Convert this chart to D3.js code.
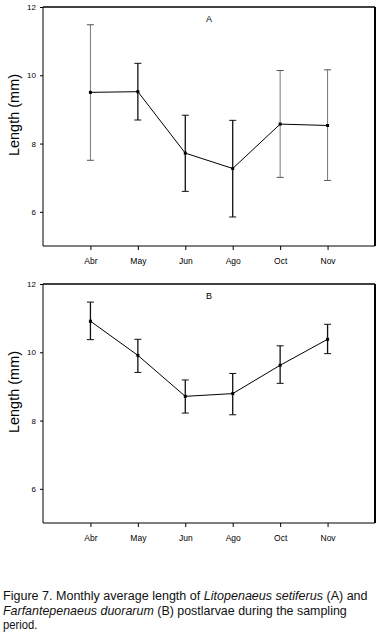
<!DOCTYPE html>
<html><head><meta charset="utf-8">
<script src="https://cdn.jsdelivr.net/npm/d3@7"></script>
<style>
body{margin:0;background:#fff;}
svg{display:block;}
.tick text{font-family:"Liberation Sans",Arial,sans-serif;}
</style></head>
<body>
<script>
const months = ["Abr","May","Jun","Ago","Oct","Nov"];
const yTicks = [6,8,10,12];
const meanA = [9.50,9.52,7.72,7.27,8.57,8.53];
const hiA   = [11.48,10.35,8.83,8.68,10.14,10.16];
const loA   = [7.51,8.69,6.60,5.85,7.01,6.92];
const meanB = [10.91,9.91,8.71,8.79,9.62,10.38];
const hiB   = [11.47,10.38,9.19,9.38,10.19,10.82];
const loB   = [10.37,9.41,8.22,8.17,9.09,9.96];

const W=381,H=644;
const svg=d3.select("body").append("svg").attr("width",W).attr("height",H);

function panel(top, label, mean, hi, lo, thickBars){
  const x=d3.scaleLinear().domain([0,7]).range([43,375]);
  const y=d3.scaleLinear().domain([5,12]).range([top+239,top]);
  const g=svg.append("g");
  g.append("line").attr("x1",43).attr("x2",375).attr("y1",top).attr("y2",top).attr("stroke","#000").attr("stroke-width",1.5);
  g.append("line").attr("x1",375).attr("x2",375).attr("y1",top).attr("y2",top+239).attr("stroke","#000").attr("stroke-width",2);
  const ya=g.append("g").attr("transform","translate(43,0)")
    .call(d3.axisLeft(y).tickValues(yTicks).tickFormat(d3.format("d")).tickSize(3).tickPadding(4));
  ya.select(".domain").attr("stroke-width",1).attr("d",`M0,${top}V${top+239}`);
  ya.selectAll(".tick text").attr("font-size",8);
  const xa=g.append("g").attr("transform",`translate(0,${top+239})`)
    .call(d3.axisBottom(x).tickValues([1,2,3,4,5,6]).tickFormat((d)=>months[d-1]).tickSize(4).tickPadding(8));
  xa.select(".domain").attr("stroke-width",1.2).attr("d","M43,0H375");
  xa.selectAll(".tick text").attr("font-size",8.5);
  g.append("text").attr("x",209).attr("y",top+15).attr("text-anchor","middle")
    .attr("font-family","Liberation Sans,Arial,sans-serif").attr("font-size",9).text(label);
  g.append("text").attr("transform",`translate(19,${top+108}) rotate(-90)`).attr("text-anchor","middle")
    .attr("font-family","Liberation Sans,Arial,sans-serif").attr("font-size",14.5).text("Length (mm)");
  const idx=d3.range(6);
  idx.forEach(i=>{
    const cx=x(i+1);
    const sw=thickBars[i]?1.3:0.8;
    const col=thickBars[i]?"#111":"#555";
    g.append("line").attr("x1",cx).attr("x2",cx).attr("y1",y(hi[i])).attr("y2",y(lo[i])).attr("stroke",col).attr("stroke-width",sw);
    g.append("line").attr("x1",cx-3.5).attr("x2",cx+3.5).attr("y1",y(hi[i])).attr("y2",y(hi[i])).attr("stroke",col).attr("stroke-width",1);
    g.append("line").attr("x1",cx-3.5).attr("x2",cx+3.5).attr("y1",y(lo[i])).attr("y2",y(lo[i])).attr("stroke",col).attr("stroke-width",1);
  });
  g.append("path").datum(idx).attr("fill","none").attr("stroke","#000").attr("stroke-width",1)
    .attr("d",d3.line().x(i=>x(i+1)).y(i=>y(mean[i])));
  g.selectAll("rect.pt").data(idx).join("rect").attr("x",i=>x(i+1)-1.5).attr("y",i=>y(mean[i])-1.5)
    .attr("width",3).attr("height",3).attr("fill","#000");
}
panel(7,"A",meanA,hiA,loA,[false,true,true,true,false,false]);
panel(284,"B",meanB,hiB,loB,[true,true,true,true,true,true]);

function capLine(baseY, targetW, parts){
  const g=svg.append("g");
  const t=g.append("text").attr("x",0).attr("y",0)
    .attr("font-family","'Liberation Sans',Arial,sans-serif").attr("font-size",12).attr("fill","#111");
  parts.forEach(([s,it])=>{ const ts=t.append("tspan").text(s); if(it) ts.attr("font-style","italic"); });
  const w=t.node().getComputedTextLength();
  g.attr("transform",`translate(3,${baseY}) scale(${targetW/w},1)`);
}
capLine(600,365,[["Figure 7. Monthly average length of "],["Litopenaeus setiferus",1],[" (A) and"]]);
capLine(615,344,[["Farfantepenaeus duorarum",1],[" (B) postlarvae during the sampling"]]);
capLine(629,34.5,[["period."]]);
</script>
</body></html>
